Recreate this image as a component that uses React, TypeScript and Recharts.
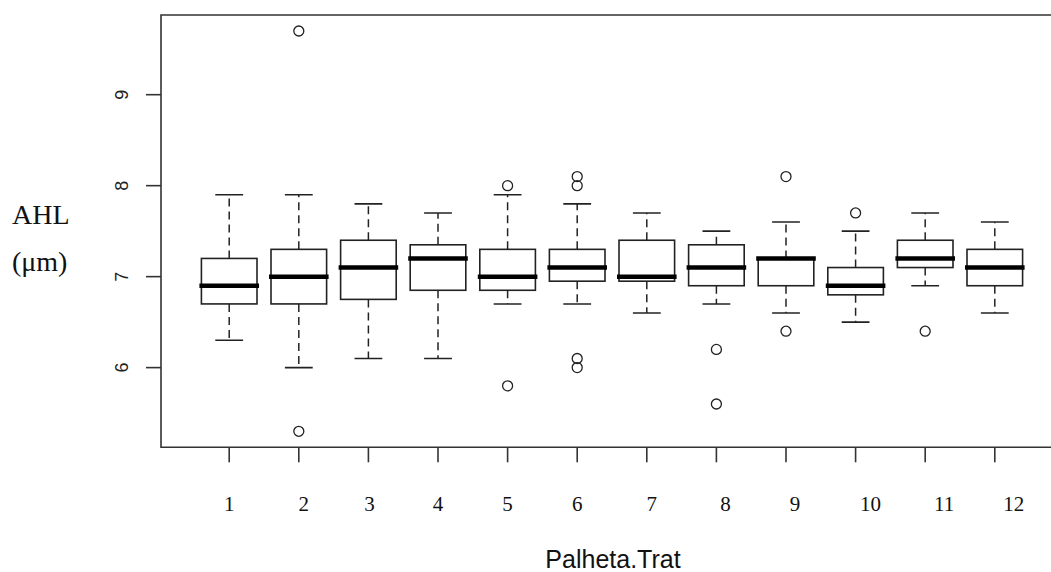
import { Bar, ComposedChart, Label, ReferenceArea, Scatter, XAxis, YAxis } from "recharts";

// Palheta.Trat groups and five-number summaries
const categories = ["1", "2", "3", "4", "5", "6", "7", "8", "9", "10", "11", "12"];
const whiskerLow = [6.3, 6.0, 6.1, 6.1, 6.7, 6.7, 6.6, 6.7, 6.6, 6.5, 6.9, 6.6];
const quartile1 = [6.7, 6.7, 6.75, 6.85, 6.85, 6.95, 6.95, 6.9, 6.9, 6.8, 7.1, 6.9];
const medians = [6.9, 7.0, 7.1, 7.2, 7.0, 7.1, 7.0, 7.1, 7.2, 6.9, 7.2, 7.1];
const quartile3 = [7.2, 7.3, 7.4, 7.35, 7.3, 7.3, 7.4, 7.35, 7.2, 7.1, 7.4, 7.3];
const whiskerHigh = [7.9, 7.9, 7.8, 7.7, 7.9, 7.8, 7.7, 7.5, 7.6, 7.5, 7.7, 7.6];

const outlierGroups = [2, 2, 5, 5, 6, 6, 6, 6, 8, 8, 9, 9, 10, 11];
const outlierValues = [9.7, 5.3, 8.0, 5.8, 8.1, 8.0, 6.1, 6.0, 6.2, 5.6, 8.1, 6.4, 7.7, 6.4];

const yTicks = [6, 7, 8, 9];

const boxData = categories.map((label, i) => ({
  pos: i + 1,
  label,
  min: whiskerLow[i],
  q1: quartile1[i],
  median: medians[i],
  q3: quartile3[i],
  max: whiskerHigh[i],
}));

const outlierData = outlierGroups.map((g, i) => ({ pos: g, value: outlierValues[i] }));

// R style axis ranges (data range extended by 4%)
const xDomain: [number, number] = [0.02, 12.98];
const yDomain: [number, number] = [5.124, 9.876];

// the x labels were placed by hand in the original, drifting right
const labelShift = [0, 5, 1, 0, 0, 0, 5, 9, 9, 15, 19, 19];

const ink = "#222";
const serif = "'Liberation Serif', 'Times New Roman', serif";
const sans = "'Liberation Sans', Arial, sans-serif";

function BoxShape(props: any) {
  const { x, y, width, height, payload } = props;
  if (!payload) return null;
  const top = Math.min(y, y + height);
  const span = Math.abs(height);
  const lo = payload.min;
  const hi = payload.max;
  const py = (v: number) => top + ((hi - v) / (hi - lo)) * span;
  const cx = x + width / 2;
  const cap = width / 4;

  return (
    <g>
      <line x1={cx} x2={cx} y1={py(payload.q1)} y2={py(lo)} stroke={ink} strokeWidth={1.5} strokeDasharray="8 5" />
      <line x1={cx} x2={cx} y1={py(payload.q3)} y2={py(hi)} stroke={ink} strokeWidth={1.5} strokeDasharray="8 5" />
      <line x1={cx - cap} x2={cx + cap} y1={py(lo)} y2={py(lo)} stroke={ink} strokeWidth={1.6} />
      <line x1={cx - cap} x2={cx + cap} y1={py(hi)} y2={py(hi)} stroke={ink} strokeWidth={1.6} />
      <rect
        x={x}
        y={py(payload.q3)}
        width={width}
        height={py(payload.q1) - py(payload.q3)}
        fill="none"
        stroke={ink}
        strokeWidth={1.6}
      />
      <line
        x1={x - 2}
        x2={x + width + 2}
        y1={py(payload.median)}
        y2={py(payload.median)}
        stroke="#000"
        strokeWidth={4.5}
      />
    </g>
  );
}

function OutlierShape(props: any) {
  const { cx, cy } = props;
  return <circle cx={cx} cy={cy} r={5} fill="none" stroke={ink} strokeWidth={1.3} />;
}

function XTick(props: any) {
  const { x, y, index } = props;
  return (
    <text
      x={x + (labelShift[index] ?? 0)}
      y={y + 47}
      textAnchor="middle"
      fontFamily={serif}
      fontSize={21}
      fill="#111"
    >
      {categories[index]}
    </text>
  );
}

function YTick(props: any) {
  const { x, y, payload } = props;
  return (
    <text
      transform={`translate(${x - 16},${y}) rotate(-90)`}
      textAnchor="middle"
      fontFamily={sans}
      fontSize={18}
      fill={ink}
    >
      {payload.value}
    </text>
  );
}

export default function App() {
  return (
    <div
      style={{
        position: "fixed",
        left: 0,
        top: 0,
        width: 1051,
        height: 572,
        overflow: "hidden",
        background: "#fff",
      }}
    >
      <ComposedChart
        width={1080}
        height={572}
        data={boxData}
        margin={{ top: 15, right: 17, bottom: 0, left: 0 }}
      >
        <XAxis
          dataKey="pos"
          type="number"
          domain={xDomain}
          allowDataOverflow
          ticks={categories.map((_, i) => i + 1)}
          interval={0}
          height={124.7}
          tickSize={15}
          axisLine={false}
          tickLine={{ stroke: "#333", strokeWidth: 1.6 }}
          tick={<XTick />}
        >
          <Label
            content={() => (
              <text x={613} y={568} textAnchor="middle" fontFamily={sans} fontSize={25} fill="#111">
                Palheta.Trat
              </text>
            )}
          />
        </XAxis>
        <YAxis
          type="number"
          domain={yDomain}
          allowDataOverflow
          ticks={yTicks}
          width={161}
          tickSize={15}
          axisLine={false}
          tickLine={{ stroke: "#333", strokeWidth: 1.6 }}
          tick={<YTick />}
        >
          <Label
            content={() => (
              <g fontFamily={serif} fontSize={28} fill="#111">
                <text x={12} y={224}>AHL</text>
                <text x={12} y={271}>(μm)</text>
              </g>
            )}
          />
        </YAxis>
        <ReferenceArea
          x1={xDomain[0]}
          x2={xDomain[1]}
          y1={yDomain[0]}
          y2={yDomain[1]}
          fill="none"
          stroke="#333"
          strokeWidth={1.6}
          ifOverflow="visible"
        />
        <Bar
          dataKey={(d: any) => [d.min, d.max]}
          barSize={55.6}
          shape={<BoxShape />}
          isAnimationActive={false}
        />
        <Scatter
          data={outlierData}
          dataKey="value"
          shape={<OutlierShape />}
          isAnimationActive={false}
        />
      </ComposedChart>
    </div>
  );
}
